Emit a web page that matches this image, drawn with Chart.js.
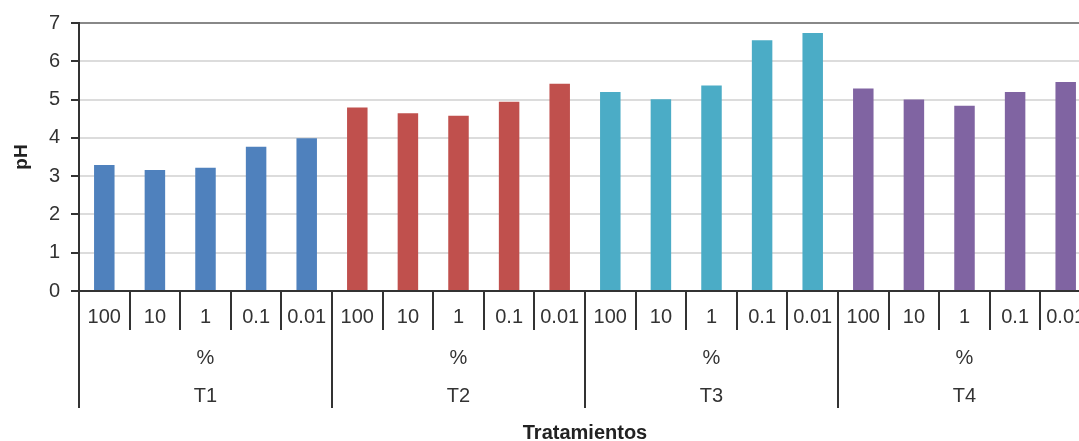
<!DOCTYPE html>
<html><head><meta charset="utf-8">
<script src="https://cdn.jsdelivr.net/npm/chart.js@4/dist/chart.umd.min.js"></script>
<style>html,body{margin:0;padding:0;background:#fff;overflow:hidden;width:1079px;height:441px}
#wrap{width:1091px;height:441px}</style></head>
<body><div id="wrap"><canvas id="c" width="1091" height="441"></canvas></div>
<script>
const concentrations = ['100','10','1','0.1','0.01'];
const treatments = ['T1','T2','T3','T4'];
const unitLabel = '%';
const phT1 = [3.29, 3.16, 3.22, 3.77, 3.99];
const phT2 = [4.79, 4.64, 4.58, 4.94, 5.41];
const phT3 = [5.20, 5.01, 5.37, 6.55, 6.74];
const phT4 = [5.29, 5.00, 4.84, 5.20, 5.46];
const treatmentColors = ['#4F81BD', '#C0504D', '#4BACC6', '#8064A2'];
const yMin = 0, yMax = 7, yStep = 1;
const yTitle = 'pH';
const xTitle = 'Tratamientos';

const series = [phT1, phT2, phT3, phT4];
const labels = [], values = [], barColors = [];
series.forEach((s, g) => s.forEach((v, i) => {
  labels.push(concentrations[i]); values.push(v); barColors.push(treatmentColors[g]);
}));

const FONT = "'Liberation Sans', Arial, sans-serif";
const TXT = '#333';

const multiLevel = {
  id: 'multiLevel',
  afterDraw(chart) {
    const xs = chart.scales.x, area = chart.chartArea, ctx = chart.ctx;
    const n = labels.length, per = concentrations.length;
    const step = xs.getPixelForValue(1) - xs.getPixelForValue(0);
    ctx.save();
    ctx.strokeStyle = '#333'; ctx.lineWidth = 2;
    for (let i = 0; i <= n; i++) {
      const x = Math.round((i < n ? xs.getPixelForValue(i) - step / 2 : xs.getPixelForValue(n - 1) + step / 2));
      const len = (i % per === 0) ? 117 : 39;
      ctx.beginPath(); ctx.moveTo(x, area.bottom); ctx.lineTo(x, area.bottom + len); ctx.stroke();
    }
    ctx.fillStyle = TXT; ctx.font = '20px ' + FONT;
    ctx.textAlign = 'center'; ctx.textBaseline = 'middle';
    treatments.forEach((t, g) => {
      const cx = (xs.getPixelForValue(g * per) + xs.getPixelForValue(g * per + per - 1)) / 2;
      ctx.fillText(unitLabel, cx, area.bottom + 67);
      ctx.fillText(t, cx, area.bottom + 105);
    });
    ctx.restore();
  }
};

new Chart(document.getElementById('c'), {
  type: 'bar',
  data: { labels, datasets: [{ data: values, backgroundColor: barColors, borderWidth: 0,
    categoryPercentage: 1, barPercentage: 0.405 }] },
  options: {
    responsive: false, animation: false,
    layout: { padding: { top: 23, right: 0, left: 0, bottom: 0 } },
    plugins: { legend: { display: false }, tooltip: { enabled: false } },
    scales: {
      x: {
        grid: { display: false, offset: true, drawTicks: false },
        border: { display: true, color: '#333', width: 2 },
        ticks: { autoSkip: false, maxRotation: 0, minRotation: 0, padding: 14,
          color: TXT, font: { family: FONT, size: 20, lineHeight: 1.2 } },
        title: { display: true, text: xTitle, color: '#222',
          font: { family: FONT, size: 20, weight: 'bold', lineHeight: 1 }, padding: { top: 0, bottom: -2 } },
        afterFit(s) { s.height = 150; s.paddingLeft = 0; s.paddingRight = 0; }
      },
      y: {
        min: yMin, max: yMax,
        ticks: { stepSize: yStep, padding: 11, color: TXT, font: { family: FONT, size: 20 } },
        grid: { color: c => (c.tick && c.tick.value === yMax) ? '#888' : '#dcdcdc', lineWidth: 2,
          tickColor: '#333', tickWidth: 2, tickLength: 8, drawTicks: true },
        border: { display: true, color: '#333', width: 2 },
        title: { display: true, text: yTitle, color: '#222',
          font: { family: FONT, size: 19, weight: 'bold' }, padding: { top: 10, bottom: 0 } },
        afterFit(s) { s.width = 79; }
      }
    }
  },
  plugins: [multiLevel]
});
</script></body></html>
